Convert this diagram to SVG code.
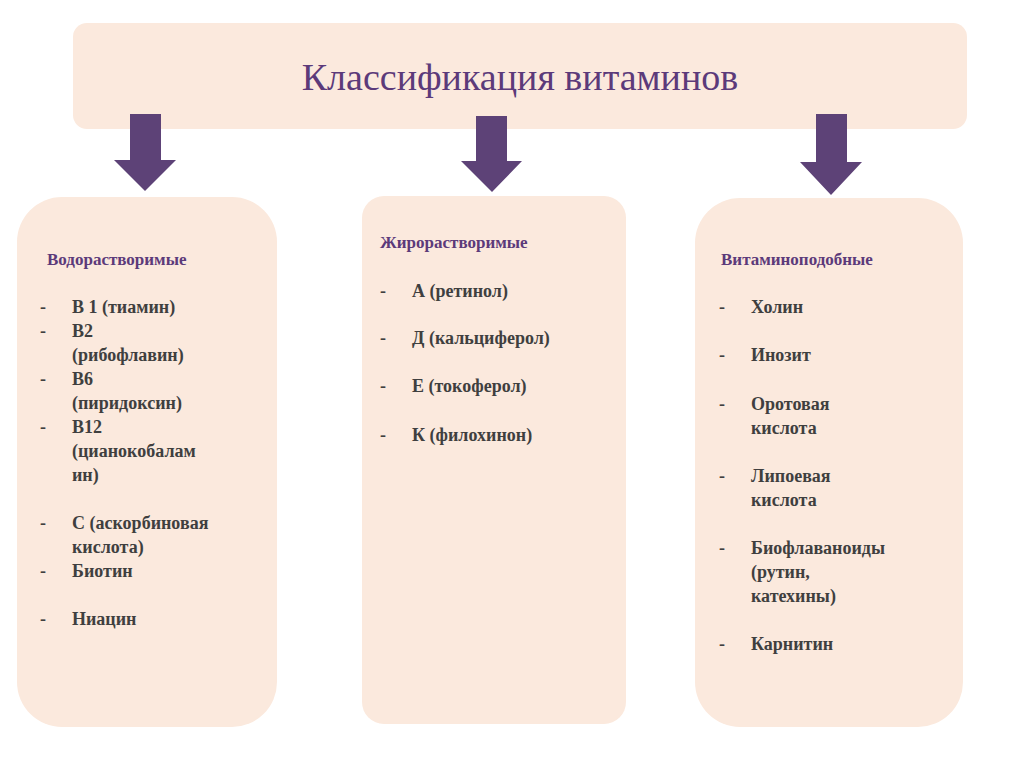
<svg xmlns="http://www.w3.org/2000/svg" width="1024" height="767" viewBox="0 0 1024 767">
<style>
.box{fill:#fbe9dd}
.arr{fill:#5d4277}
.h{font-family:"Liberation Serif",serif;font-weight:bold;font-size:17px;fill:#5c3a7a}
.t{font-family:"Liberation Serif",serif;font-weight:bold;font-size:18px;fill:#3f3f3f}
.title{font-family:"Liberation Serif",serif;font-size:38px;fill:#5c3a7a}
</style>
<rect width="1024" height="767" fill="#fff"/>
<g id="title"><rect class="box" x="73" y="23" width="894" height="106" rx="14"/>
<text class="title" x="520" y="90" text-anchor="middle">Классификация витаминов</text></g>
<g id="connectors">
<path class="arr" d="M130 114H161V160H176L145 191L114 160H130Z"/>
<path class="arr" d="M476 116H507V161H522L492 192L461 161H476Z"/>
<path class="arr" d="M816 114H847V162H862L831 195L800 162H816Z"/>
</g>
<g id="water"><rect class="box" x="17" y="197" width="260" height="530" rx="45"/>
<text class="h" x="47" y="265">Водорастворимые</text>
<g class="t">
<text x="40" y="313">-</text><text x="72" y="313">В 1 (тиамин)</text>
<text x="40" y="337">-</text><text x="72" y="337">В2</text>
<text x="72" y="361">(рибофлавин)</text>
<text x="40" y="385">-</text><text x="72" y="385">В6</text>
<text x="72" y="409">(пиридоксин)</text>
<text x="40" y="433">-</text><text x="72" y="433">В12</text>
<text x="72" y="457">(цианокобалам</text>
<text x="72" y="481">ин)</text>
<text x="40" y="529">-</text><text x="72" y="529">С (аскорбиновая</text>
<text x="72" y="553">кислота)</text>
<text x="40" y="577">-</text><text x="72" y="577">Биотин</text>
<text x="40" y="625">-</text><text x="72" y="625">Ниацин</text>
</g></g>
<g id="fat"><rect class="box" x="362" y="196" width="264" height="528" rx="22"/>
<text class="h" x="380" y="248">Жирорастворимые</text>
<g class="t">
<text x="380" y="297">-</text><text x="412" y="297">А (ретинол)</text>
<text x="380" y="344">-</text><text x="412" y="344">Д (кальциферол)</text>
<text x="380" y="392">-</text><text x="412" y="392">Е (токоферол)</text>
<text x="380" y="441">-</text><text x="412" y="441">К (филохинон)</text>
</g></g>
<g id="vitlike"><rect class="box" x="695" y="198" width="268" height="529" rx="45"/>
<text class="h" x="721" y="265">Витаминоподобные</text>
<g class="t">
<text x="719" y="313">-</text><text x="751" y="313">Холин</text>
<text x="719" y="361">-</text><text x="751" y="361">Инозит</text>
<text x="719" y="410">-</text><text x="751" y="410">Оротовая</text>
<text x="751" y="434">кислота</text>
<text x="719" y="482">-</text><text x="751" y="482">Липоевая</text>
<text x="751" y="506">кислота</text>
<text x="719" y="554">-</text><text x="751" y="554">Биофлаваноиды</text>
<text x="751" y="578">(рутин,</text>
<text x="751" y="602">катехины)</text>
<text x="719" y="650">-</text><text x="751" y="650">Карнитин</text>
</g></g>
</svg>
